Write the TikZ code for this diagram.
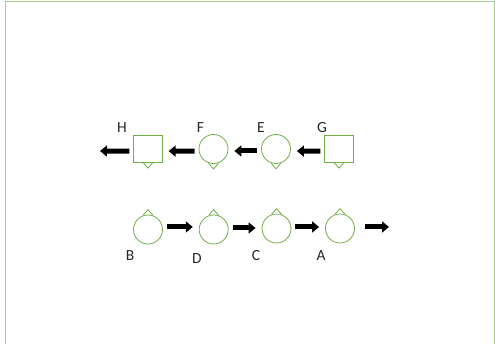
\documentclass[tikz,border=0pt]{standalone}
\usepackage{fontspec}
\setmainfont{Carlito}
\usetikzlibrary{arrows.meta,positioning}
\definecolor{cLoop}{HTML}{70AD47}
\definecolor{cFrame}{HTML}{A8CC8C}
\definecolor{cInk}{HTML}{000000}
\tikzset{
  loopnode/.style={circle, draw=cLoop, line width=0.8pt, minimum size=29pt, inner sep=0pt, fill=white},
  sqnode/.style={rectangle, draw=cLoop, line width=0.8pt, minimum width=28.5pt, minimum height=27pt, inner sep=0pt, fill=white},
  notch/.style={draw=cLoop, line width=0.8pt, line join=miter},
  lbl/.style={font=\fontsize{15.5}{15.5}\selectfont, text=black!85, inner sep=0pt},
  blk/.style={draw=cInk, line width=5pt, -{Triangle[length=7pt, width=11pt]}, shorten <=4pt, shorten >=6pt},
  frame/.style={draw=cFrame, line width=1pt},
}
\begin{document}
\begin{tikzpicture}[x=1pt, y=-1pt]
\useasboundingbox (0,0) rectangle (495,344);
% outer frame, open at the bottom
\draw[frame] (5.7,344) -- (5.7,2) -- (494,2) -- (494,344);

% upper row, flow right to left
\node[sqnode]   (H) at (148, 149.2) {};
\node[loopnode] (F) at (213.5, 149) {};
\node[loopnode] (E) at (276, 149) {};
\node[sqnode]   (G) at (339, 149.2) {};
\coordinate (out1) at (100, 151);
\foreach \n in {H,F,E,G}
  \draw[notch] ([xshift=-5pt,yshift=0.6pt]\n.south) -- ([yshift=-5pt]\n.south) -- ([xshift=5pt,yshift=0.6pt]\n.south);
\node[lbl] at (122, 128) {H};
\node[lbl] at (200.5, 128) {F};
\node[lbl] at (261, 128) {E};
\node[lbl] at (322, 128) {G};

\draw[blk] ([yshift=-2pt]G.west) -- ([yshift=-2pt]E.east);
\draw[blk] ([yshift=-2pt]E.west) -- ([yshift=-2pt]F.east);
\draw[blk] ([yshift=-2pt]F.west) -- ([yshift=-2pt]H.east);
\draw[blk, shorten >=0pt] ([yshift=-2pt]H.west) -- (out1);

% lower row, flow left to right
\node[loopnode] (B) at (148, 229.5) {};
\node[loopnode] (D) at (213.7, 229.5) {};
\node[loopnode] (C) at (276.5, 228.5) {};
\node[loopnode] (A) at (340, 228.5) {};
\coordinate (out2) at (389, 227);
\foreach \n in {B,D,C,A}
  \draw[notch] ([xshift=-5pt,yshift=-0.6pt]\n.north) -- ([yshift=5pt]\n.north) -- ([xshift=5pt,yshift=-0.6pt]\n.north);
\node[lbl] at (130, 256) {B};
\node[lbl] at (197, 259) {D};
\node[lbl] at (256, 256) {C};
\node[lbl] at (321, 256) {A};

\draw[blk] ([yshift=2.5pt]B.east) -- ([yshift=2.5pt]D.west);
\draw[blk] ([yshift=1.5pt]D.east) -- ([yshift=0.5pt]C.west);
\draw[blk] ([yshift=1.5pt]C.east) -- ([yshift=1.5pt]A.west);
\draw[blk, shorten <=10pt, shorten >=0pt] ([yshift=1.5pt]A.east) -- (out2);
\end{tikzpicture}
\end{document}
